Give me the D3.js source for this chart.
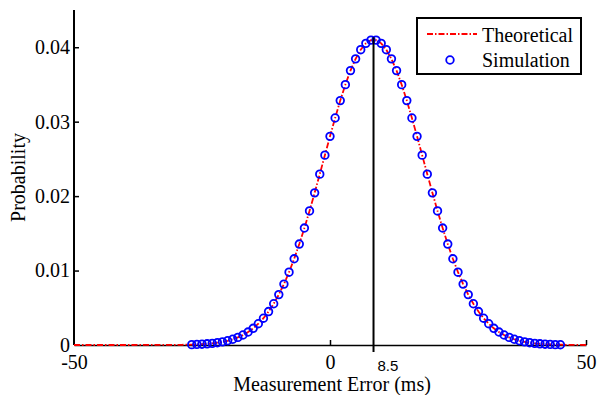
<!DOCTYPE html>
<html>
<head>
<meta charset="utf-8">
<script src="https://cdn.jsdelivr.net/npm/d3@7"></script>
<style>
  body { margin: 0; background: #fff; }
  svg { display: block; font-family: "Liberation Serif", "Times New Roman", serif; }
</style>
</head>
<body>
<div id="chart"></div>
<script>
// data
const simX = [-27, -26, -25, -24, -23, -22, -21, -20, -19, -18, -17, -16, -15, -14, -13, -12, -11, -10, -9, -8,
  -7, -6, -5, -4, -3, -2, -1, 0, 1, 2, 3, 4, 5, 6, 7, 8, 9, 10, 11, 12, 13, 14, 15, 16, 17, 18, 19, 20,
  21, 22, 23, 24, 25, 26, 27, 28, 29, 30, 31, 32, 33, 34, 35, 36, 37, 38, 39, 40, 41, 42, 43, 44, 45];
const simY = [0.00005, 0.00008, 0.00011, 0.00016, 0.00022, 0.00031, 0.00042, 0.00057, 0.00077, 0.00102,
  0.00134, 0.00174, 0.00224, 0.00286, 0.00360, 0.00449, 0.00554, 0.00677, 0.00818, 0.00978,
  0.01158, 0.01356, 0.01571, 0.01801, 0.02044, 0.02295, 0.02550, 0.02803, 0.03049, 0.03283,
  0.03497, 0.03686, 0.03844, 0.03967, 0.04052, 0.04095, 0.04095, 0.04052, 0.03967, 0.03844,
  0.03686, 0.03497, 0.03283, 0.03049, 0.02803, 0.02550, 0.02295, 0.02044, 0.01801, 0.01571,
  0.01356, 0.01158, 0.00978, 0.00818, 0.00677, 0.00554, 0.00449, 0.00360, 0.00286, 0.00224,
  0.00174, 0.00134, 0.00102, 0.00077, 0.00057, 0.00042, 0.00031, 0.00022, 0.00016, 0.00011,
  0.00008, 0.00005, 0.00004];

// theoretical curve: tails + same grid as the simulation
const theoX = [-50, -45, -40, -35, -30, -29, -28].concat(simX, [46, 47, 48, 50]);
const theoY = [0, 0, 0, 0.00001, 0.00002, 0.00003, 0.00004].concat(simY, [0.00003, 0.00002, 0.00001, 0]);

const xTicks = [-50, 0, 50];
const yTicks = [0, 0.01, 0.02, 0.03, 0.04];
const meanValue = 8.5;
const legendLabels = ["Theoretical", "Simulation"];

const width = 598, height = 395;
const margin = { left: 74, right: 12, top: 10, bottom: 50 };
const fontSize = "20px";

const svg = d3.select("#chart").append("svg")
  .attr("width", width)
  .attr("height", height);

const x = d3.scaleLinear().domain([-50, 50]).range([margin.left, width - margin.right]);
const y = d3.scaleLinear().domain([0, 0.045]).range([height - margin.bottom, margin.top]);

// axes first so the curve sits on top of the baseline
const yAxis = d3.axisLeft(y).tickValues(yTicks).tickSize(-5).tickSizeOuter(0).tickPadding(4)
  .tickFormat(d => d === 0 ? "0" : d3.format(".2f")(d));
const gy = svg.append("g").attr("transform", `translate(${margin.left},0)`).call(yAxis);
gy.select(".domain").remove();
gy.append("line")
  .attr("x1", 0).attr("x2", 0)
  .attr("y1", y(0.045)).attr("y2", y(0))
  .attr("stroke", "#000").attr("stroke-width", 2);

const xAxis = d3.axisBottom(x).tickValues(xTicks).tickSize(-5).tickSizeOuter(0).tickPadding(10)
  .tickFormat(d => String(d));   // plain hyphen like the original
const gx = svg.append("g").attr("transform", `translate(0,${y(0)})`).call(xAxis);
gx.select(".domain").attr("stroke-width", 1.5);

svg.selectAll(".tick text").style("font-size", fontSize).style("font-family", "'Liberation Serif', serif").attr("fill", "#000");
svg.selectAll(".tick line").attr("stroke", "#000").attr("stroke-width", 1.5);
gy.selectAll(".tick").filter(d => d === 0).select("line").remove();
gx.selectAll(".tick").filter(d => d === -50).select("line").remove();

// theoretical (red dash-dot)
const line = d3.line().x(d => x(d[0])).y(d => y(d[1]));
svg.append("path")
  .datum(d3.zip(theoX, theoY))
  .attr("d", line)
  .attr("fill", "none")
  .attr("stroke", "#ff0000")
  .attr("stroke-width", 1.8)
  .attr("stroke-dasharray", "6,2,1.5,2");

// simulation circles
svg.append("g")
  .selectAll("circle")
  .data(d3.zip(simX, simY))
  .enter().append("circle")
  .attr("cx", d => x(d[0]))
  .attr("cy", d => y(d[1]))
  .attr("r", 3.8)
  .attr("fill", "none")
  .attr("stroke", "#0000ff")
  .attr("stroke-width", 1.8);

// mean marker
const peak = d3.max(simY);
svg.append("line")
  .attr("x1", x(meanValue)).attr("x2", x(meanValue))
  .attr("y1", y(peak) - 3).attr("y2", y(0) + 7)
  .attr("stroke", "#000").attr("stroke-width", 2);
svg.append("text")
  .attr("x", x(meanValue) + 4)
  .attr("y", 371)
  .style("font-family", "'Liberation Sans', Arial, sans-serif")
  .style("font-size", "15px")
  .text("8.5");

// axis titles
svg.append("text")
  .attr("transform", `translate(25,${(y(0) + y(0.045)) / 2}) rotate(-90)`)
  .attr("text-anchor", "middle")
  .style("font-size", fontSize)
  .text("Probability");
svg.append("text")
  .attr("x", x(0) + 2)
  .attr("y", 391)
  .attr("text-anchor", "middle")
  .style("font-size", fontSize)
  .text("Measurement Error (ms)");

// legend
const lg = svg.append("g");
lg.append("rect")
  .attr("x", 417).attr("y", 18).attr("width", 164).attr("height", 56)
  .attr("fill", "#fff").attr("stroke", "#000").attr("stroke-width", 2);
lg.append("line")
  .attr("x1", 427).attr("x2", 477).attr("y1", 34).attr("y2", 34)
  .attr("stroke", "#ff0000").attr("stroke-width", 1.8).attr("stroke-dasharray", "6,2,1.5,2");
lg.append("circle")
  .attr("cx", 450).attr("cy", 60).attr("r", 3.8)
  .attr("fill", "none").attr("stroke", "#0000ff").attr("stroke-width", 1.8);
lg.selectAll("text.lab")
  .data(legendLabels)
  .enter().append("text")
  .attr("class", "lab")
  .attr("x", 482)
  .attr("y", (d, i) => 42 + i * 25)
  .style("font-size", fontSize)
  .text(d => d);
</script>
</body>
</html>
